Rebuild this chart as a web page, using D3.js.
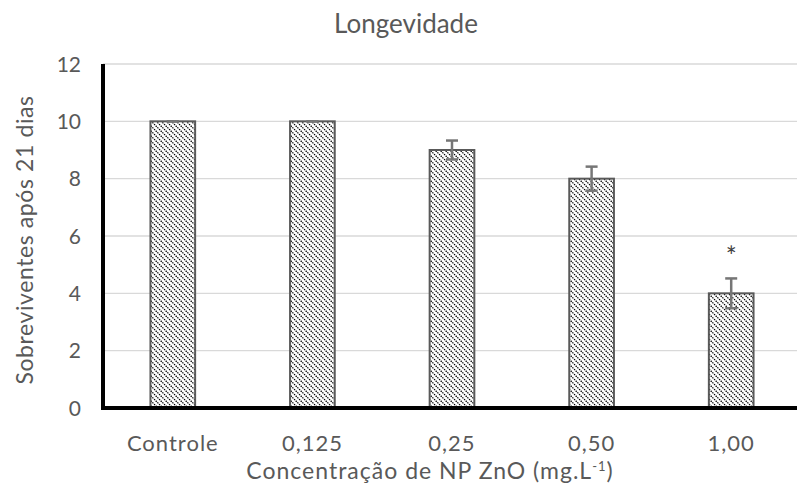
<!DOCTYPE html>
<html><head><meta charset="utf-8">
<script src="https://cdn.jsdelivr.net/npm/d3@7"></script>
<style>body{margin:0;background:#fff}svg{display:block}text{font-family:Lato,"Open Sans",sans-serif;fill:#595959}</style>
</head><body><svg id="c" width="797" height="486"></svg>
<script>
const categories = ["Controle","0,125","0,25","0,50","1,00"];
const values = [10, 10, 9, 8, 4];
const errors = [0, 0, 0.33, 0.42, 0.52];
const marks = ["", "", "", "", "*"];
const yTicks = [0,2,4,6,8,10,12];

const svg = d3.select("#c");
const W = 797, H = 486;
const m = {l:103, r:-4, t:64, b:78};
const x = d3.scaleBand().domain(categories).range([m.l, W - m.r]).paddingInner(0.68).paddingOuter(0.34);
const y = d3.scaleLinear().domain([0,12]).range([H - m.b, m.t]);

const defs = svg.append("defs");
const pat = defs.append("pattern").attr("id","hatch").attr("patternUnits","userSpaceOnUse")
  .attr("width",5).attr("height",5);
pat.append("rect").attr("width",5).attr("height",5).attr("fill","#fff");
pat.append("path").attr("d","M-1,-1 L6,6 M-1,4 L1,6 M4,-1 L6,1").attr("stroke","#000").attr("stroke-width",1.3).attr("stroke-dasharray","1.4,1");

// grid
svg.append("g").selectAll("line").data(yTicks.filter(d=>d>0)).join("line")
  .attr("x1",m.l).attr("x2",W).attr("y1",d=>y(d)).attr("y2",d=>y(d))
  .attr("stroke","#d9d9d9").attr("stroke-width",1.3);

// y tick labels
svg.append("g").selectAll("text").data(yTicks).join("text")
  .attr("x",81).attr("y",d=>y(d)).attr("dy","0.36em").attr("text-anchor","end")
  .attr("font-size",21).text(d=>d);

// bars
svg.append("g").selectAll("rect").data(values).join("rect")
  .attr("x",(d,i)=>x(categories[i])).attr("width",x.bandwidth())
  .attr("y",d=>y(d)).attr("height",d=>y(0)-y(d))
  .attr("fill","url(#hatch)").attr("stroke","#595959").attr("stroke-width",2);

// error bars
const eg = svg.append("g").attr("stroke","#767676").attr("stroke-width",2.5);
values.forEach((v,i)=>{
  const cx = x(categories[i]) + x.bandwidth()/2;
  const e = errors[i];
  eg.append("line").attr("x1",cx).attr("x2",cx).attr("y1",y(v+e)).attr("y2",y(v-e));
  [v+e, v-e].forEach(t=>eg.append("line").attr("x1",cx-6).attr("x2",cx+6).attr("y1",y(t)).attr("y2",y(t)));
});

// significance marks
svg.append("g").selectAll("text").data(marks).join("text")
  .attr("x",(d,i)=>x(categories[i])+x.bandwidth()/2)
  .attr("y",(d,i)=>y(values[i]+errors[i])-12).attr("text-anchor","middle")
  .attr("font-size",26).style("fill","#404040").text(d=>d);

// axes lines
svg.append("line").attr("x1",m.l).attr("x2",m.l).attr("y1",m.t).attr("y2",y(0)+2).attr("stroke","#000").attr("stroke-width",4);
svg.append("line").attr("x1",m.l-2).attr("x2",W).attr("y1",y(0)).attr("y2",y(0)).attr("stroke","#000").attr("stroke-width",4);

// x labels
svg.append("g").selectAll("text").data(categories).join("text")
  .attr("x",d=>x(d)+x.bandwidth()/2).attr("y",451).attr("text-anchor","middle")
  .attr("font-size",22).attr("letter-spacing",1).text(d=>d);

// titles
svg.append("text").attr("x",406).attr("y",33).attr("text-anchor","middle").attr("font-size",26).text("Longevidade");
const xt = svg.append("text").attr("x",430).attr("y",479).attr("text-anchor","middle").attr("font-size",23).attr("letter-spacing",1);
xt.append("tspan").text("Concentração de NP ZnO (mg.L");
xt.append("tspan").attr("font-size",13).attr("dy",-8).text("-1");
xt.append("tspan").attr("dy",8).text(")");
svg.append("text").attr("transform","translate(33,240) rotate(-90)").attr("text-anchor","middle").attr("font-size",23).attr("letter-spacing",0.6).text("Sobreviventes após 21 dias");
</script></body></html>
